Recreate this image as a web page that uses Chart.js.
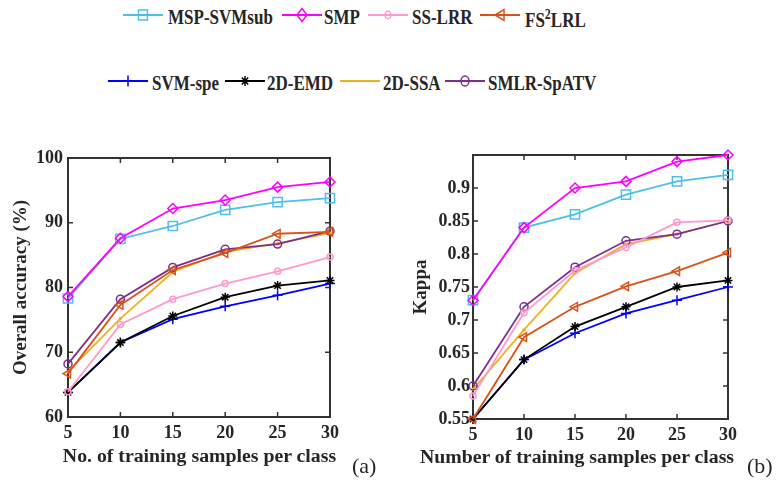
<!DOCTYPE html>
<html>
<head>
<meta charset="utf-8">
<script src="https://cdn.jsdelivr.net/npm/chart.js@4.4.0/dist/chart.umd.min.js"></script>
<style>
  body { margin: 0; background: #fff; width: 781px; height: 481px; overflow: hidden; position: relative;
         font-family: "Liberation Serif", "Times New Roman", serif; color: #262626; }
  canvas { position: absolute; }
  .lg-line { position: absolute; }
  .lg-text { position: absolute; font-weight: bold; font-size: 17px; line-height: 17px; white-space: nowrap;
             color: #262626; transform: scaleY(1.2); transform-origin: 0 14px; }
  .lg-text sup { font-size: 12px; vertical-align: 7px; line-height: 0; }
  .xtitle { position: absolute; font-weight: bold; font-size: 19.8px; line-height: 19px; white-space: nowrap; text-align: center; }
  .panel { position: absolute; font-size: 22px; line-height: 22px; }
</style>
</head>
<body>
<canvas id="chartA" width="345" height="320" style="left:0;top:140px"></canvas>
<canvas id="chartB" width="400" height="320" style="left:380px;top:140px"></canvas>
<div class="xtitle" style="left:0;width:399px;top:446px">No. of training samples per class</div>
<div class="xtitle" style="left:377px;width:400px;top:447px">Number of training samples per class</div>
<div class="panel" style="left:352px;top:455px">(a)</div>
<div class="panel" style="left:747px;top:455px">(b)</div>
<div id="legend"></div>
<script>
// training samples per class (x axis)
const trainingSamples = [5, 10, 15, 20, 25, 30];
const seriesNames = ['MSP-SVMsub', 'SMP', 'SS-LRR', 'FS²LRL', 'SVM-spe', '2D-EMD', '2D-SSA', 'SMLR-SpATV'];

// (a) overall accuracy (%)
const oaMSPSVMsub = [78.3, 87.5, 89.5, 92.0, 93.2, 93.8];
const oaSMP       = [78.6, 87.6, 92.2, 93.5, 95.5, 96.3];
const oaSSLRR     = [63.9, 74.3, 78.2, 80.6, 82.5, 84.7];
const oaFS2LRL    = [66.7, 77.3, 82.7, 85.3, 88.3, 88.6];
const oaSVMspe    = [63.8, 71.5, 75.1, 77.1, 78.8, 80.6];
const oa2DEMD     = [63.8, 71.5, 75.6, 78.5, 80.3, 81.1];
const oa2DSSA     = [67.0, 75.2, 82.4, 85.5, 86.8, 88.4];
const oaSMLRSpATV = [68.2, 78.2, 83.1, 85.9, 86.7, 88.7];

// (b) kappa
const kMSPSVMsub = [0.73, 0.84, 0.86, 0.89, 0.91, 0.92];
const kSMP       = [0.73, 0.84, 0.90, 0.91, 0.94, 0.95];
const kSSLRR     = [0.585, 0.711, 0.775, 0.81, 0.848, 0.851];
const kFS2LRL    = [0.55, 0.674, 0.72, 0.751, 0.774, 0.802];
const kSVMspe    = [0.55, 0.64, 0.68, 0.71, 0.73, 0.75];
const k2DEMD     = [0.55, 0.64, 0.69, 0.72, 0.75, 0.76];
const k2DSSA     = [0.595, 0.685, 0.771, 0.815, 0.83, 0.85];
const kSMLRSpATV = [0.60, 0.72, 0.78, 0.82, 0.83, 0.85];

// tick labels
const xTicks = [5, 10, 15, 20, 25, 30];
const oaTicks = [60, 70, 80, 90, 100];
const kappaTicks = [0.55, 0.6, 0.65, 0.7, 0.75, 0.8, 0.85, 0.9];

// matlab-ish look for each series (same order as seriesNames)
const styles = [
  {color: '#4DBEEE', point: 'rect',     radius: 6.5, rot: 0,   order: 1},
  {color: '#FF00FF', point: 'rectRot',  radius: 5,   rot: 0,   order: 0},
  {color: '#FF99CC', point: 'circle',   radius: 3,   rot: 0,   order: 2},
  {color: '#D95319', point: 'triangle', radius: 5,   rot: -90, order: 3},
  {color: '#0000FF', point: 'cross',    radius: 5,   rot: 0,   order: 7},
  {color: '#000000', point: 'star',     radius: 4.5, rot: 0,   order: 6},
  {color: '#EDB120', point: 'circle',   radius: 1,   rot: 0,   order: 5},
  {color: '#7E2F8E', point: 'circle',   radius: 4,   rot: 0,   order: 4},
];

const FONT = "'Liberation Serif', 'Times New Roman', serif";
const INK = '#262626';

function makeDatasets(seriesValues) {
  return seriesValues.map((vals, i) => {
    const s = styles[i];
    return {
      label: seriesNames[i],
      data: vals.map((v, j) => ({x: trainingSamples[j], y: v})),
      borderColor: s.color,
      borderWidth: 1.8,
      pointStyle: s.point,
      pointRadius: s.radius,
      pointRotation: s.rot,
      pointBorderColor: s.color,
      pointBackgroundColor: s.point === 'circle' && s.radius < 2 ? s.color : 'rgba(0,0,0,0)',
      pointBorderWidth: 1.5,
      order: s.order,
      clip: false,
      tension: 0
    };
  });
}

// box with inward tick marks on all four sides
const matlabBox = {
  id: 'matlabBox',
  beforeDatasetsDraw(chart) {
    const {ctx, chartArea: a, scales: {x, y}} = chart;
    ctx.save();
    ctx.strokeStyle = '#333';
    ctx.lineWidth = 1.5;
    ctx.beginPath();
    x.ticks.forEach(t => {
      const px = x.getPixelForValue(t.value);
      ctx.moveTo(px, a.bottom); ctx.lineTo(px, a.bottom - 5);
      ctx.moveTo(px, a.top); ctx.lineTo(px, a.top + 5);
    });
    y.ticks.forEach(t => {
      const py = y.getPixelForValue(t.value);
      ctx.moveTo(a.left, py); ctx.lineTo(a.left + 5, py);
      ctx.moveTo(a.right, py); ctx.lineTo(a.right - 5, py);
    });
    ctx.stroke();
    ctx.lineWidth = 2;
    ctx.strokeRect(a.left, a.top, a.right - a.left, a.bottom - a.top);
    ctx.restore();
  }
};

function buildChart(id, datasets, o) {
  return new Chart(document.getElementById(id), {
    type: 'line',
    data: {datasets: datasets},
    plugins: [matlabBox],
    options: {
      responsive: false,
      animation: false,
      devicePixelRatio: 1,
      layout: {padding: o.padding},
      plugins: {legend: {display: false}, tooltip: {enabled: false}},
      scales: {
        x: {
          type: 'linear', min: 5, max: 30,
          afterBuildTicks: s => { s.ticks = xTicks.map(v => ({value: v})); },
          afterFit: s => { s.height = o.xHeight; },
          grid: {display: false, drawTicks: false},
          border: {display: false},
          ticks: {padding: 6, color: INK, font: {family: FONT, size: 18, weight: 'bold'}, callback: v => String(v)}
        },
        y: {
          type: 'linear', min: o.yMin, max: o.yMax,
          afterBuildTicks: s => { s.ticks = o.yTicks.map(v => ({value: v})); },
          afterFit: s => { s.width = o.yWidth; },
          grid: {display: false, drawTicks: false},
          border: {display: false},
          ticks: {padding: o.yPad, color: INK, font: {family: FONT, size: 18, weight: 'bold'}, callback: v => String(v)},
          title: {display: true, text: o.yTitle, color: INK, padding: {top: o.titlePad, bottom: 0},
                  font: {family: FONT, size: 19, weight: 'bold'}}
        }
      }
    }
  });
}

buildChart('chartA',
  makeDatasets([oaMSPSVMsub, oaSMP, oaSSLRR, oaFS2LRL, oaSVMspe, oa2DEMD, oa2DSSA, oaSMLRSpATV]),
  {padding: {top: 18, right: 15, bottom: 0, left: 0}, xHeight: 43, yWidth: 68, yPad: 5, titlePad: 10,
   yMin: 60, yMax: 100, yTicks: oaTicks, yTitle: 'Overall accuracy (%)'});

buildChart('chartB',
  makeDatasets([kMSPSVMsub, kSMP, kSSLRR, kFS2LRL, kSVMspe, k2DEMD, k2DSSA, kSMLRSpATV]),
  {padding: {top: 15, right: 52, bottom: 0, left: 0}, xHeight: 41, yWidth: 93, yPad: 3, titlePad: 30,
   yMin: 0.55, yMax: 0.95, yTicks: kappaTicks, yTitle: 'Kappa'});

// legend (two rows of four, like the matlab figure)
const legendLine = [[123, 15], [282, 15], [368, 15], [480, 15], [108, 81], [225, 81], [340, 81], [445, 81]];
const legendText = [168, 324, 412, 525, 152, 267, 383, 488];

function markerSvg(s) {
  const c = s.color, cx = 20, cy = 8, w = 'stroke-width="1.5" fill="none" stroke="' + c + '"';
  switch (s.point) {
    case 'rect': return '<rect x="15.5" y="3" width="9" height="10" ' + w + '/>';
    case 'rectRot': return '<polygon points="20,1.5 25,8 20,14.5 15,8" ' + w + '/>';
    case 'triangle': return '<polygon points="15,8 24,2.5 24,13.5" ' + w + '/>';
    case 'cross': return '<path d="M15 8H25M20 2.5V13.5" ' + w + '/>';
    case 'star': return '<path d="M15.5 8H24.5M20 3V13M16.8 4.5L23.2 11.5M16.8 11.5L23.2 4.5" ' + w + '/>';
    default:
      if (s.radius < 2) return '<circle cx="' + cx + '" cy="' + cy + '" r="1" fill="' + c + '"/>';
      return '<ellipse cx="' + cx + '" cy="' + cy + '" rx="' + s.radius + '" ry="' + (s.radius * 1.25) + '" ' + w + '/>';
  }
}

const legend = document.getElementById('legend');
seriesNames.forEach((name, i) => {
  const s = styles[i];
  const [lx, ly] = legendLine[i];
  const svg = document.createElement('div');
  svg.className = 'lg-line';
  svg.style.left = lx + 'px';
  svg.style.top = (ly - 8) + 'px';
  svg.innerHTML = '<svg width="40" height="16"><line x1="0" y1="8" x2="40" y2="8" stroke="' + s.color +
    '" stroke-width="1.8"/>' + markerSvg(s) + '</svg>';
  legend.appendChild(svg);
  const t = document.createElement('div');
  t.className = 'lg-text';
  t.style.left = legendText[i] + 'px';
  const baseline = ly < 50 ? 24 : 90;
  if (name === 'FS²LRL') {
    t.innerHTML = 'FS<sup>2</sup>LRL';
    t.style.top = (baseline + 3 - 14) + 'px';
  } else {
    t.textContent = name;
    t.style.top = (baseline - 14) + 'px';
  }
  legend.appendChild(t);
});
</script>
</body>
</html>
